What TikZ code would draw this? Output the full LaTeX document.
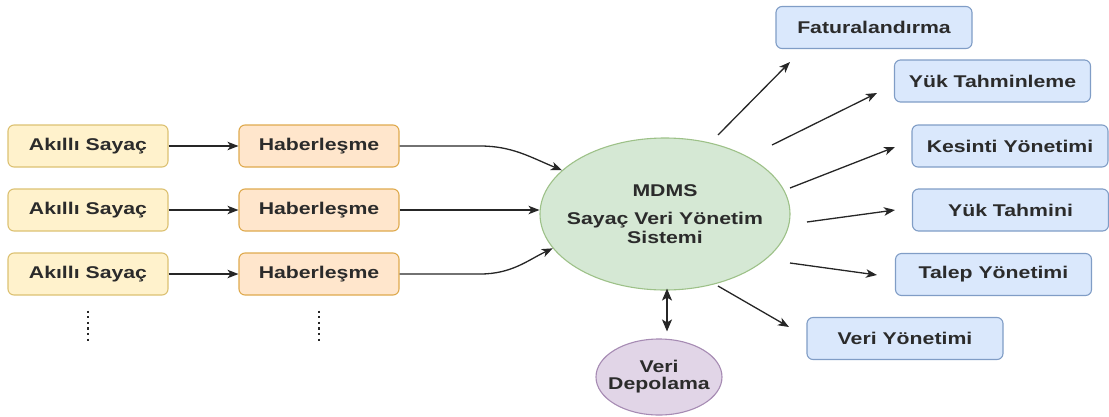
\documentclass[tikz,border=0pt]{standalone}
\usepackage{fontspec}
\setmainfont{Liberation Sans}[FakeStretch=1.25]
\usetikzlibrary{arrows.meta,shapes.geometric}

\definecolor{txt}{HTML}{2B2B2B}
\definecolor{lnk}{HTML}{262626}
\definecolor{yelfill}{HTML}{FFF2CC}
\definecolor{yeldraw}{HTML}{DCC172}
\definecolor{orafill}{HTML}{FFE6CC}
\definecolor{oradraw}{HTML}{DFAA4E}
\definecolor{blufill}{HTML}{DAE8FC}
\definecolor{bludraw}{HTML}{809DC6}
\definecolor{grnfill}{HTML}{D5E8D4}
\definecolor{grndraw}{HTML}{9DC188}
\definecolor{purfill}{HTML}{E1D5E7}
\definecolor{purdraw}{HTML}{A68BB3}

\tikzset{
  box/.style={rectangle, rounded corners=6pt, minimum width=160pt,
    minimum height=42pt, inner sep=0pt, line width=1.1pt},
  meterbox/.style={box, fill=yelfill, draw=yeldraw},
  commbox/.style={box, fill=orafill, draw=oradraw},
  appbox/.style={box, minimum width=196pt, fill=blufill, draw=bludraw},
  arr/.style={draw=lnk, line width=1.3pt,
    -{Stealth[length=11pt,width=8.5pt,inset=3pt]}},
  dblarr/.style={draw=lnk, line width=1.5pt,
    {Stealth[length=12pt,width=10pt,inset=3pt]}-{Stealth[length=12pt,width=10pt,inset=3pt]}},
  dotline/.style={draw=lnk, line width=2.2pt, dash pattern=on 2.2pt off 3.4pt}
}

\begin{document}
\begin{tikzpicture}[x=1pt, y=-1pt, text=txt,
  font=\fontsize{17}{19}\selectfont\bfseries]
\useasboundingbox (0,0) rectangle (1109,416);

% smart meters
\node[meterbox] (ak1) at (88,146) {Akıllı Sayaç};
\node[meterbox] (ak2) at (88,210) {Akıllı Sayaç};
\node[meterbox] (ak3) at (88,274) {Akıllı Sayaç};

% communication
\node[commbox] (hb1) at (319,146) {Haberleşme};
\node[commbox] (hb2) at (319,210) {Haberleşme};
\node[commbox] (hb3) at (319,274) {Haberleşme};

% central system
\node[ellipse, minimum width=250pt, minimum height=152pt, inner ysep=0pt,
  inner xsep=-30pt, fill=grnfill, draw=grndraw, line width=1.1pt, align=center]
  (mdms) at (665,214) {MDMS\\[9pt]Sayaç Veri Yönetim\\Sistemi};

% storage
\node[ellipse, minimum width=126pt, minimum height=76pt, inner ysep=0pt,
  inner xsep=-30pt, fill=purfill, draw=purdraw, line width=1.1pt, align=center,
  font=\fontsize{17}{17}\selectfont\bfseries]
  (dep) at (659,377) {Veri\\Depolama};

% applications
\node[appbox] (fat) at (874,27.5) {Faturalandırma};
\node[appbox] (ytl) at (992.5,81) {Yük Tahminleme};
\node[appbox] (kes) at (1010,146) {Kesinti Yönetimi};
\node[appbox] (ytm) at (1010.5,210) {Yük Tahmini};
\node[appbox] (tal) at (993.5,274.5) {Talep Yönetimi};
\node[appbox] (vy) at (905,338.5) {Veri Yönetimi};

% meters to communication
\draw[arr] (ak1.east) -- (hb1.west);
\draw[arr] (ak2.east) -- (hb2.west);
\draw[arr] (ak3.east) -- (hb3.west);

% communication to MDMS
\draw[arr] (hb1.east) -- (480,146) .. controls (512,146) and (530,157) .. (mdms.157);
\draw[arr] (hb2.east) -- (mdms.west |- hb2.east);
\draw[arr] (hb3.east) -- (480,274) .. controls (512,274) and (528,260) .. (mdms.197);

% MDMS <-> storage
\draw[dblarr] ([xshift=2pt,yshift=2pt]mdms.south) -- ([xshift=8pt,yshift=7pt]dep.north);

% MDMS to applications
\coordinate (o1) at (718,135);  \coordinate (i1) at (790,62);
\coordinate (o2) at (772,145);  \coordinate (i2) at (877,93);
\coordinate (o3) at (790,188);  \coordinate (i3) at (895,147);
\coordinate (o4) at (807,222);  \coordinate (i4) at (895,210);
\coordinate (o5) at (790,263);  \coordinate (i5) at (877,275);
\coordinate (o6) at (718,286);  \coordinate (i6) at (789,327);
\draw[arr] (o1) -- (i1);
\draw[arr] (o2) -- (i2);
\draw[arr] (o3) -- (i3);
\draw[arr] (o4) -- (i4);
\draw[arr] (o5) -- (i5);
\draw[arr] (o6) -- (i6);

% more meters below
\draw[dotline] ([yshift=-15pt]ak3.south) -- ([yshift=-47pt]ak3.south);
\draw[dotline] ([yshift=-15pt]hb3.south) -- ([yshift=-47pt]hb3.south);
\end{tikzpicture}
\end{document}
